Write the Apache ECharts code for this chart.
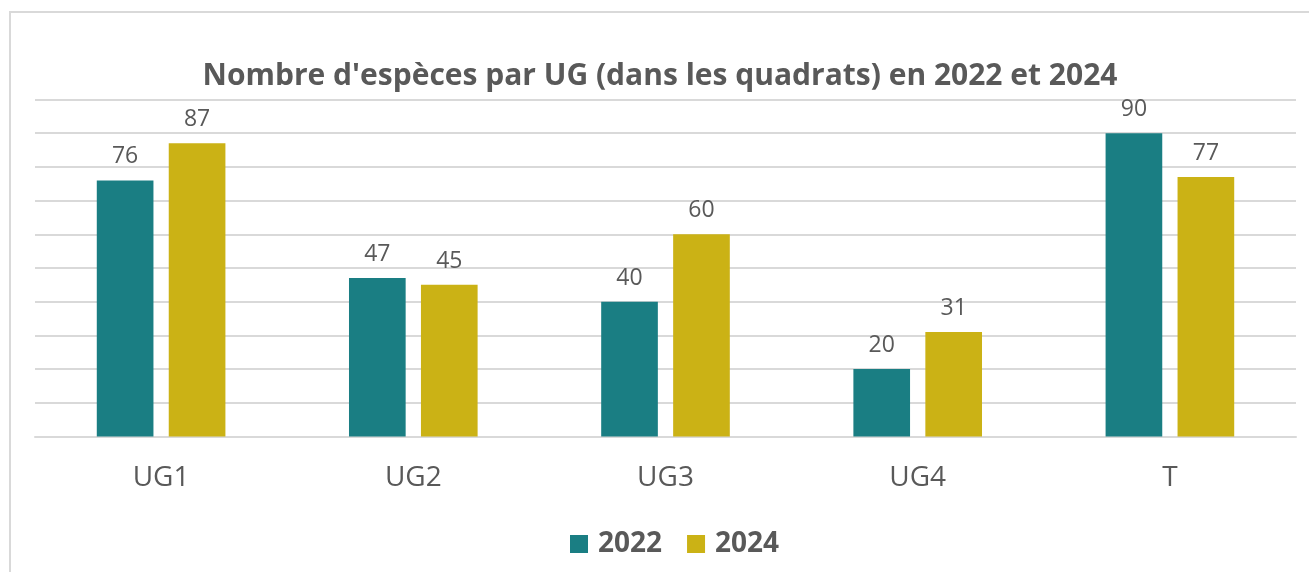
<!DOCTYPE html>
<html><head><meta charset="utf-8">
<script src="https://cdn.jsdelivr.net/npm/echarts@6/dist/echarts.min.js"></script>
<style>html,body{margin:0;padding:0;background:#fff}#c{width:1309px;height:572px}</style>
</head><body><div id="c"></div>
<script>
const categories = ['UG1', 'UG2', 'UG3', 'UG4', 'T'];
const values2022 = [76, 47, 40, 20, 90];
const values2024 = [87, 45, 60, 31, 77];
const seriesNames = ['2022', '2024'];
const titleText = "Nombre d'espèces par UG (dans les quadrats) en 2022 et 2024";

const FONT = '"Open Sans", sans-serif';
const chart = echarts.init(document.getElementById('c'));
const lbl = {show: true, position: 'top', distance: 12, color: '#595959', fontSize: 23, fontFamily: FONT};
chart.setOption({
  animation: false,
  graphic: [{type: 'rect', shape: {x: 10, y: 12, width: 1320, height: 600}, style: {fill: 'none', stroke: '#d9d9d9', lineWidth: 2}, z: -1}],
  title: {text: titleText, left: 655, textAlign: 'center', top: 56,
    textStyle: {fontFamily: FONT, fontWeight: 'bold', fontSize: 30, color: '#595959'}},
  legend: {data: seriesNames, left: 565, top: 525, itemWidth: 18, itemHeight: 18, itemGap: 25,
    icon: 'rect', textStyle: {fontFamily: FONT, fontWeight: 'bold', fontSize: 28, color: '#595959', padding: [0,0,0,5]}},
  grid: {left: 35, right: 13, top: 99.5, bottom: 135.5, containLabel: false},
  xAxis: {type: 'category', data: categories,
    axisLine: {lineStyle: {color: '#d9d9d9', width: 2}}, axisTick: {show: false},
    axisLabel: {color: '#595959', fontSize: 28, fontFamily: FONT, margin: 28}},
  yAxis: {type: 'value', min: 0, max: 100, interval: 10, axisLabel: {show: false},
    axisLine: {show: false}, axisTick: {show: false},
    splitLine: {lineStyle: {color: '#d9d9d9', width: 2}}},
  series: [
    {name: seriesNames[0], type: 'bar', data: values2022, barGap: '27%', barCategoryGap: '49%',
     itemStyle: {color: '#1a7e83'}, label: lbl},
    {name: seriesNames[1], type: 'bar', data: values2024,
     itemStyle: {color: '#cbb215'}, label: lbl}
  ]
});
</script></body></html>
